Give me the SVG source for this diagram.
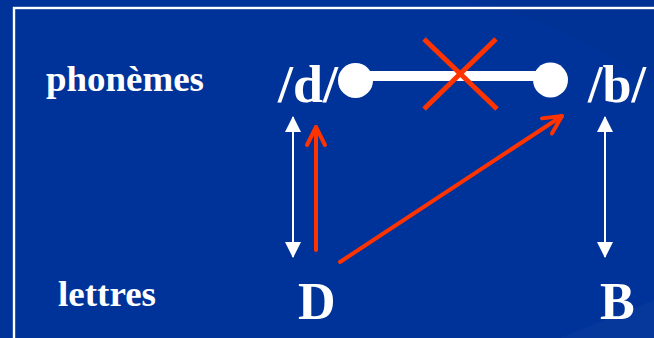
<svg xmlns="http://www.w3.org/2000/svg" width="654" height="338" viewBox="0 0 654 338">
<defs>
<style>
.lbl{font-family:"Liberation Serif","Times New Roman",serif;font-weight:bold;fill:#ffffff}
.w{stroke:#ffffff;stroke-width:2;fill:none}
.r{stroke:#ff3300;stroke-width:4;fill:none;stroke-linecap:round}
</style>
<marker id="wh" viewBox="0 0 16 16" refX="15" refY="8" markerWidth="16" markerHeight="16" markerUnits="userSpaceOnUse" orient="auto-start-reverse">
<path d="M0,0 L16,8 L0,16 Z" fill="#ffffff"/>
</marker>
<marker id="rh" viewBox="0 0 24 24" refX="21" refY="12" markerWidth="24" markerHeight="24" markerUnits="userSpaceOnUse" orient="auto">
<path d="M3,3 L21,12 L3,21" fill="none" stroke="#ff3300" stroke-width="4" stroke-linecap="round" stroke-linejoin="round"/>
</marker>
</defs>
<rect x="0" y="0" width="654" height="338" fill="#003399"/>
<path d="M470,0 Q590,30 654,90 L654,0 Z" fill="#002f8f" opacity="0.5"/>
<path d="M560,338 L654,300 L654,338 Z" fill="#0a3c9e" opacity="0.6"/>
<rect x="14" y="8" width="660" height="350" fill="none" stroke="#ffffff" stroke-width="2.4"/>

<g id="label-phonemes"><text class="lbl" x="46" y="91" font-size="35" textLength="158" lengthAdjust="spacingAndGlyphs">phonèmes</text></g>
<g id="label-lettres"><text class="lbl" x="58" y="306" font-size="35" textLength="98" lengthAdjust="spacingAndGlyphs">lettres</text></g>
<g id="node-d-phon"><text class="lbl" x="278" y="102" font-size="52" textLength="60" lengthAdjust="spacingAndGlyphs">/d/</text></g>
<g id="node-b-phon"><text class="lbl" x="588" y="102" font-size="52" textLength="58" lengthAdjust="spacingAndGlyphs">/b/</text></g>
<g id="node-D"><text class="lbl" x="298" y="319" font-size="52">D</text></g>
<g id="node-B"><text class="lbl" x="600" y="319" font-size="52">B</text></g>

<g id="connectors">
<line x1="360" y1="76" x2="545" y2="76" stroke="#ffffff" stroke-width="10"/>
<circle cx="355.5" cy="80.5" r="17.5" fill="#ffffff"/>
<circle cx="550.5" cy="80" r="17.5" fill="#ffffff"/>
<line x1="424" y1="39" x2="497" y2="109" stroke="#ff3300" stroke-width="5"/>
<line x1="496" y1="39" x2="424" y2="109" stroke="#ff3300" stroke-width="5"/>
<line class="w" x1="293" y1="117" x2="293" y2="257" marker-start="url(#wh)" marker-end="url(#wh)"/>
<line class="w" x1="605" y1="117" x2="605" y2="257" marker-start="url(#wh)" marker-end="url(#wh)"/>
<line class="r" x1="316" y1="250" x2="316" y2="127" marker-end="url(#rh)"/>
<line class="r" x1="340" y1="262" x2="562" y2="116" marker-end="url(#rh)"/>
</g>
</svg>
